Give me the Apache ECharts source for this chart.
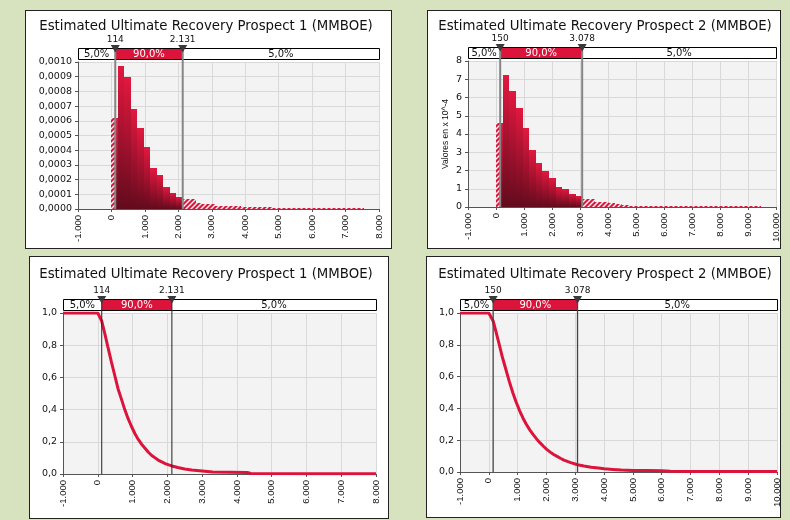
<!DOCTYPE html>
<html><head><meta charset="utf-8">
<script src="https://cdn.jsdelivr.net/npm/echarts@6/dist/echarts.min.js"></script>
<style>
html,body{margin:0;padding:0;background:#d7e3bf;}
#wrap{position:relative;width:790px;height:520px;overflow:hidden;background:#d7e3bf;}
.panel{position:absolute;background:#fff;border:1.5px solid #222;box-sizing:border-box;}
#chart{position:absolute;left:0;top:0;width:790px;height:520px;}
</style></head><body>
<div id="wrap">
<div class="panel" style="left:25px;top:10px;width:367px;height:239px"></div>
<div class="panel" style="left:427px;top:10px;width:354px;height:239px"></div>
<div class="panel" style="left:29px;top:256px;width:360px;height:263px"></div>
<div class="panel" style="left:426px;top:256px;width:355px;height:262px"></div>
<div id="chart"></div>
</div>
<script>
// ---------- data ----------
const titles = [
  'Estimated Ultimate Recovery Prospect 1 (MMBOE)',
  'Estimated Ultimate Recovery Prospect 2 (MMBOE)',
  'Estimated Ultimate Recovery Prospect 1 (MMBOE)',
  'Estimated Ultimate Recovery Prospect 2 (MMBOE)'
];
const pctLow = 5.0, pctMid = 90.0, pctHigh = 5.0;
const p5Prospect1 = 114, p95Prospect1 = 2131;
const p5Prospect2 = 150, p95Prospect2 = 3078;

const xRange1 = [-1000, 8000];
const xRange2 = [-1000, 10000];
const xStep = 1000;

// histogram prospect 1 (density)
const hist1Start = 0;
const hist1BinWidth = 193.7;
const hist1 = [0.00062, 0.00097, 0.00090, 0.00068, 0.00055, 0.00042, 0.00028, 0.00023, 0.00015, 0.00011, 0.000085,
  0.000066, 0.000066, 0.000043, 0.000034, 0.000034, 0.000023, 0.000020, 0.000020, 0.000020,
  0.000014, 0.000014, 0.000014, 0.000014, 0.000014,
  0.000008, 0.000008, 0.000008, 0.000008, 0.000008, 0.000008, 0.000008,
  0.000008, 0.000008, 0.000008, 0.000008, 0.000008, 0.000008, 0.000008];
const yRangeHist1 = [0, 0.001], yStepHist1 = 0.0001;

// histogram prospect 2 (values in x 10^-4)
const hist2Start = 0;
const hist2BinWidth = 236.8;
const hist2 = [4.6, 7.25, 6.35, 5.42, 4.32, 3.12, 2.4, 1.95, 1.57, 1.12, 0.97, 0.7, 0.58,
  0.44, 0.44, 0.26, 0.26, 0.24, 0.16, 0.13, 0.07,
  0.05, 0.05, 0.05, 0.05, 0.05, 0.05, 0.05, 0.05, 0.05, 0.05,
  0.05, 0.05, 0.05, 0.05, 0.05, 0.05, 0.05, 0.05, 0.05];
const yRangeHist2 = [0, 8], yStepHist2 = 1;
const yNameHist2 = 'Valores en x 10^-4';

// descending cumulative prospect 1
const cdf1X = [-1000, 0, 40, 114, 194, 290, 388, 485, 582, 680, 776, 870, 970, 1070, 1164, 1260, 1358, 1455, 1552, 1650, 1746, 1840, 1940, 2040, 2131, 2300, 2500, 2700, 3000, 3300, 3800, 4300, 4400, 6000, 8000];
const cdf1Y = [1.0, 1.0, 0.99, 0.95, 0.88, 0.79, 0.70, 0.615, 0.53, 0.465, 0.40, 0.345, 0.295, 0.25, 0.215, 0.185, 0.16, 0.135, 0.115, 0.10, 0.085, 0.075, 0.065, 0.057, 0.05, 0.04, 0.031, 0.025, 0.019, 0.013, 0.011, 0.009, 0.003, 0.002, 0.002];
// descending cumulative prospect 2
const cdf2X = [-1000, 0, 50, 150, 237, 350, 474, 600, 710, 830, 947, 1070, 1184, 1300, 1421, 1540, 1658, 1780, 1894, 2010, 2131, 2250, 2368, 2500, 2605, 2750, 2842, 3000, 3078, 3300, 3550, 3800, 4000, 4300, 4600, 5000, 5500, 6000, 6300, 7000, 8000, 9000, 10000];
const cdf2Y = [1.0, 1.0, 0.99, 0.95, 0.89, 0.81, 0.72, 0.64, 0.57, 0.50, 0.44, 0.385, 0.34, 0.30, 0.265, 0.235, 0.208, 0.183, 0.162, 0.142, 0.125, 0.11, 0.098, 0.085, 0.075, 0.065, 0.059, 0.05, 0.046, 0.038, 0.03, 0.025, 0.02, 0.016, 0.012, 0.01, 0.009, 0.008, 0.004, 0.003, 0.003, 0.003, 0.003];
const yRangeCdf = [0, 1], yStepCdf = 0.2;

// ---------- helpers ----------
function fmtThousands(v) {
  const s = Math.abs(Math.round(v)).toString().replace(/\B(?=(\d{3})+(?!\d))/g, '.');
  return (v < 0 ? '-' : '') + s;
}
function fmtDec(v, d) { return v.toFixed(d).replace('.', ','); }

const FONT = '"DejaVu Sans", Verdana, sans-serif';
const RED = '#dc143c';

function makeHatch() {
  const n = 5;
  const c = document.createElement('canvas');
  c.width = n; c.height = n;
  const g = c.getContext('2d');
  g.fillStyle = '#d51a40';
  g.fillRect(0, 0, n, n);
  g.strokeStyle = 'rgba(255,255,255,0.95)';
  g.lineWidth = 1.4;
  g.beginPath();
  g.moveTo(0, n); g.lineTo(n, 0);
  g.moveTo(-1, 1); g.lineTo(1, -1);
  g.moveTo(n - 1, n + 1); g.lineTo(n + 1, n - 1);
  g.stroke();
  return c;
}
const hatchCanvas = makeHatch();

const grids = [
  { left: 78, top: 62, width: 301, height: 147 },
  { left: 468, top: 61, width: 308, height: 146 },
  { left: 63, top: 313, width: 313, height: 161 },
  { left: 460, top: 313, width: 317, height: 159 }
];

function xAxisCfg(gi, range) {
  return {
    type: 'value', gridIndex: gi, min: range[0], max: range[1], interval: xStep,
    axisLine: { show: true, onZero: false, lineStyle: { color: '#555', width: 1 } },
    axisTick: { show: true, length: 3, lineStyle: { color: '#555' } },
    splitLine: { show: true, lineStyle: { color: '#d9d9d9', width: 1 } },
    axisLabel: { rotate: 90, margin: 6, color: '#111', fontFamily: '"Liberation Sans", Arial, sans-serif', fontSize: 9.5, formatter: fmtThousands }
  };
}
function yAxisCfg(gi, range, step, dec, extra) {
  return Object.assign({
    type: 'value', gridIndex: gi, min: range[0], max: range[1], interval: step,
    axisLine: { show: true, onZero: false, lineStyle: { color: '#555', width: 1 } },
    axisTick: { show: true, length: 3, lineStyle: { color: '#555' } },
    splitLine: { show: true, lineStyle: { color: '#d9d9d9', width: 1 } },
    axisLabel: { margin: 6, color: '#111', fontFamily: FONT, fontSize: 9.5, formatter: v => fmtDec(v, dec) }
  }, extra || {});
}

function histSeries(gi, heights, start, width, p5, p95) {
  const data = heights.map((h, i) => [start + i * width, start + (i + 1) * width, h]);
  return {
    type: 'custom', xAxisIndex: gi, yAxisIndex: gi, z: 3, silent: true, clip: false,
    data: data,
    renderItem(params, api) {
      const x0 = api.value(0), x1 = api.value(1), h = api.value(2);
      const segs = [
        [x0, Math.min(x1, p5), 'hatch'],
        [Math.max(x0, p5), Math.min(x1, p95), 'solid'],
        [Math.max(x0, p95), x1, 'hatch']
      ];
      const children = [];
      segs.forEach(s => {
        if (s[1] <= s[0]) return;
        const a = api.coord([s[0], h]);
        const b = api.coord([s[1], 0]);
        const xa = Math.round(a[0]), xb = Math.round(b[0]);
        const ya = Math.round(a[1]), yb = Math.round(b[1]);
        if (xb <= xa) return;
        const fill = s[2] === 'solid'
          ? { type: 'linear', x: 0, y: 0, x2: 0.25, y2: 1, colorStops: [{ offset: 0, color: '#e2183f' }, { offset: 1, color: '#620b1d' }] }
          : { image: hatchCanvas, repeat: 'repeat' };
        children.push({ type: 'rect', shape: { x: xa, y: Math.min(ya, yb - 1), width: xb - xa, height: Math.max(1, yb - ya) }, style: { fill: fill } });
      });
      return { type: 'group', children: children };
    }
  };
}

function cdfSeries(gi, xs, ys) {
  return {
    type: 'line', xAxisIndex: gi, yAxisIndex: gi, z: 3, silent: true, showSymbol: false, symbol: 'none',
    lineStyle: { color: RED, width: 3 },
    data: xs.map((x, i) => [x, ys[i]])
  };
}

function bandSeries(gi, p5, p95, lineColor, lineW) {
  return {
    type: 'custom', xAxisIndex: gi, yAxisIndex: gi, z: 10, silent: true, clip: false,
    data: [[p5, p95]],
    renderItem(params, api) {
      const cs = params.coordSys;
      const xa = api.coord([api.value(0), 0])[0];
      const xb = api.coord([api.value(1), 0])[0];
      const top = cs.y - 14, h = 11, bottom = cs.y + cs.height;
      const left = cs.x, right = cs.x + cs.width;
      const tf = '10px ' + FONT;
      const children = [
        { type: 'rect', shape: { x: left, y: top, width: right - left, height: h }, style: { fill: '#fff' } },
        { type: 'rect', shape: { x: xa, y: top, width: xb - xa, height: h }, style: { fill: RED } },
        { type: 'rect', shape: { x: left + 0.5, y: top + 0.5, width: right - left, height: h }, style: { fill: 'none', stroke: '#000', lineWidth: 1 } },
        { type: 'line', shape: { x1: xa, y1: top, x2: xa, y2: bottom }, style: { stroke: lineColor, lineWidth: lineW } },
        { type: 'line', shape: { x1: xb, y1: top, x2: xb, y2: bottom }, style: { stroke: lineColor, lineWidth: lineW } },
        { type: 'text', x: (left + xa) / 2, y: top + h / 2 + 0.5, style: { text: fmtDec(pctLow, 1) + '%', fill: '#111', font: tf, align: 'center', verticalAlign: 'middle' } },
        { type: 'text', x: (xa + xb) / 2, y: top + h / 2 + 0.5, style: { text: fmtDec(pctMid, 1) + '%', fill: '#fff', font: tf, align: 'center', verticalAlign: 'middle' } },
        { type: 'text', x: (xb + right) / 2, y: top + h / 2 + 0.5, style: { text: fmtDec(pctHigh, 1) + '%', fill: '#111', font: tf, align: 'center', verticalAlign: 'middle' } }
      ];
      [[xa, api.value(0)], [xb, api.value(1)]].forEach(m => {
        children.push({ type: 'polygon', shape: { points: [[m[0] - 4.5, top - 3], [m[0] + 4.5, top - 3], [m[0], top + 4.5]] }, style: { fill: '#3a3a3a' } });
        children.push({ type: 'text', x: m[0], y: top - 8.5, style: { text: fmtThousands(m[1]), fill: '#111', font: '9px ' + FONT, align: 'center', verticalAlign: 'middle' } });
      });
      return { type: 'group', children: children };
    }
  };
}

const titlePos = [[206, 27], [605, 27], [206, 275], [605, 275]];

const option = {
  animation: false,
  backgroundColor: 'transparent',
  grid: grids.map(g => Object.assign({ show: true, backgroundColor: '#f3f3f3', borderWidth: 0, containLabel: false, outerBoundsMode: 'none' }, g)),
  xAxis: [xAxisCfg(0, xRange1), xAxisCfg(1, xRange2), xAxisCfg(2, xRange1), xAxisCfg(3, xRange2)],
  yAxis: [
    yAxisCfg(0, yRangeHist1, yStepHist1, 4),
    yAxisCfg(1, yRangeHist2, yStepHist2, 0, {
      name: yNameHist2, nameLocation: 'middle', nameRotate: 90, nameGap: 18,
      nameTextStyle: { fontFamily: '"Liberation Sans", Arial, sans-serif', fontSize: 8.5, color: '#111' }
    }),
    yAxisCfg(2, yRangeCdf, yStepCdf, 1),
    yAxisCfg(3, yRangeCdf, yStepCdf, 1)
  ],
  graphic: titles.map((t, i) => ({
    type: 'text', x: titlePos[i][0], y: titlePos[i][1], silent: true,
    style: { text: t, font: '13.3px ' + FONT, fill: '#111', align: 'center', verticalAlign: 'middle' }
  })),
  series: [
    histSeries(0, hist1, hist1Start, hist1BinWidth, p5Prospect1, p95Prospect1),
    bandSeries(0, p5Prospect1, p95Prospect1, '#858585', 2),
    histSeries(1, hist2, hist2Start, hist2BinWidth, p5Prospect2, p95Prospect2),
    bandSeries(1, p5Prospect2, p95Prospect2, '#858585', 2),
    cdfSeries(2, cdf1X, cdf1Y),
    bandSeries(2, p5Prospect1, p95Prospect1, '#222', 1),
    cdfSeries(3, cdf2X, cdf2Y),
    bandSeries(3, p5Prospect2, p95Prospect2, '#444', 1.3)
  ]
};

const chart = echarts.init(document.getElementById('chart'), null, { renderer: 'canvas' });
chart.setOption(option);
</script>
</body></html>
